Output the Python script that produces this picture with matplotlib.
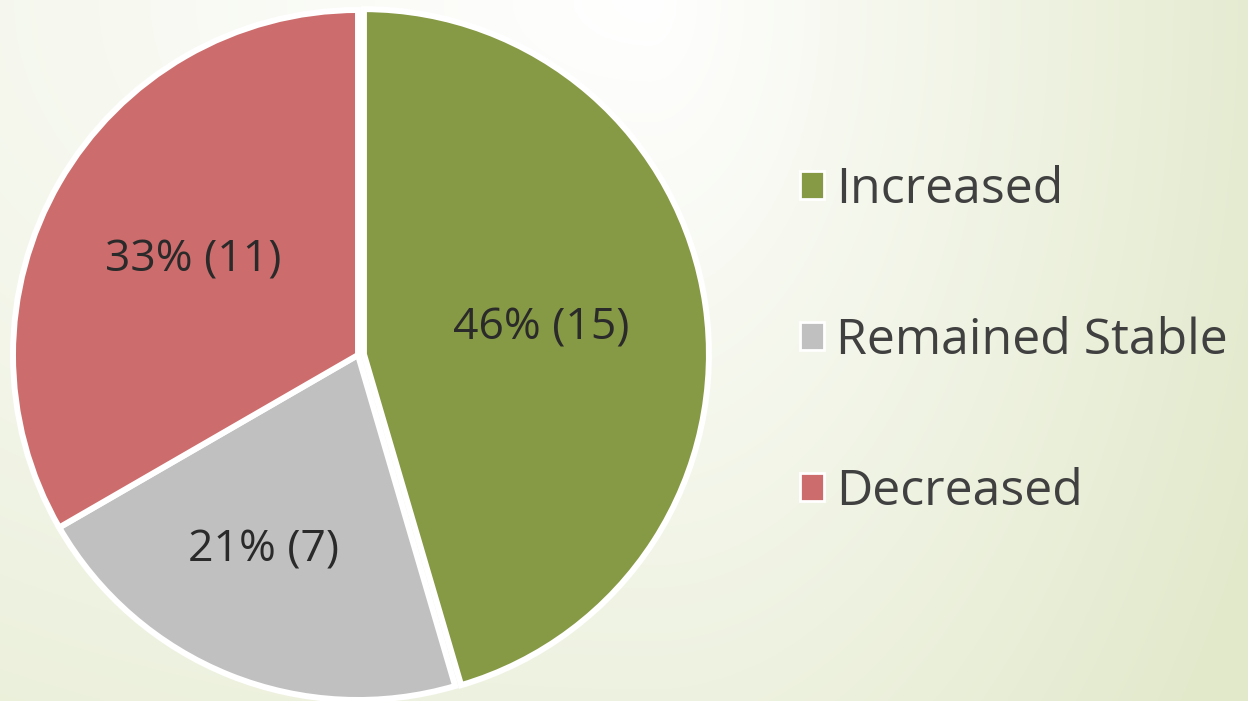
import numpy as np
import matplotlib
matplotlib.use("Agg")
import matplotlib.pyplot as plt
from matplotlib.patches import Patch
from matplotlib.colors import to_rgb

categories = ["Increased", "Remained Stable", "Decreased"]
counts = [15, 7, 11]
percents = [46, 21, 33]
colors = ["#869944", "#c0c0c0", "#cd6c6c"]

W, H = 1248, 701
fig = plt.figure(figsize=(W / 100, H / 100), dpi=100)
ax = fig.add_axes([0, 0, 1, 1])

# background gradient (whitest near top centre, greener towards right/bottom)
yy, xx = np.mgrid[0:H, 0:W].astype(float)
cx, cy = 650.0, 0.0
sx = np.where(xx < cx, 2000.0, 680.0)
t = np.sqrt(((xx - cx) / sx) ** 2 + ((yy - cy) / 1175.0) ** 2)
t = np.clip(t, 0, 1)[..., None]
c0 = np.array(to_rgb("#ffffff"))
c1 = np.array(to_rgb("#e2e9cb"))
img = c0 * (1 - t) + c1 * t
ax.imshow(img, extent=(0, W, 0, H), origin="upper", zorder=0, aspect="auto")

center = (358, H - 355)
radius = 345
wedges, _ = ax.pie(counts, colors=colors, startangle=90, counterclock=False,
                   center=center, radius=radius, explode=[6, 0, 0],
                   wedgeprops=dict(edgecolor="white", linewidth=4.3),
                   frame=True)
ax.set_xlim(0, W)
ax.set_ylim(0, H)
ax.axis("off")

label_dist = [0.52, 0.63, 0.55]
label_shift = [0, -4, 0]  # small angular tweak in degrees
for w, n, p, r, s in zip(wedges, counts, percents, label_dist, label_shift):
    thm = np.deg2rad((w.theta1 + w.theta2) / 2 + s)
    x = w.center[0] + r * radius * np.cos(thm)
    y = w.center[1] + r * radius * np.sin(thm)
    ax.text(x, y, f"{p}% ({n})", ha="center", va="center",
            fontsize=32, color="#2a2a2a", family="Open Sans")

handles = [Patch(facecolor=c, edgecolor="white", linewidth=2) for c in colors]
leg = fig.legend(handles, categories, loc="center left",
                 bbox_to_anchor=(800 / W, 1 - 341 / H),
                 frameon=False, borderpad=0, borderaxespad=0,
                 handlelength=0.48, handleheight=0.48, handletextpad=0.24,
                 labelspacing=2.03, prop=dict(family="Open Sans", size=36))
for t_ in leg.get_texts():
    t_.set_color("#404040")

fig.savefig("out.png", dpi=100)
